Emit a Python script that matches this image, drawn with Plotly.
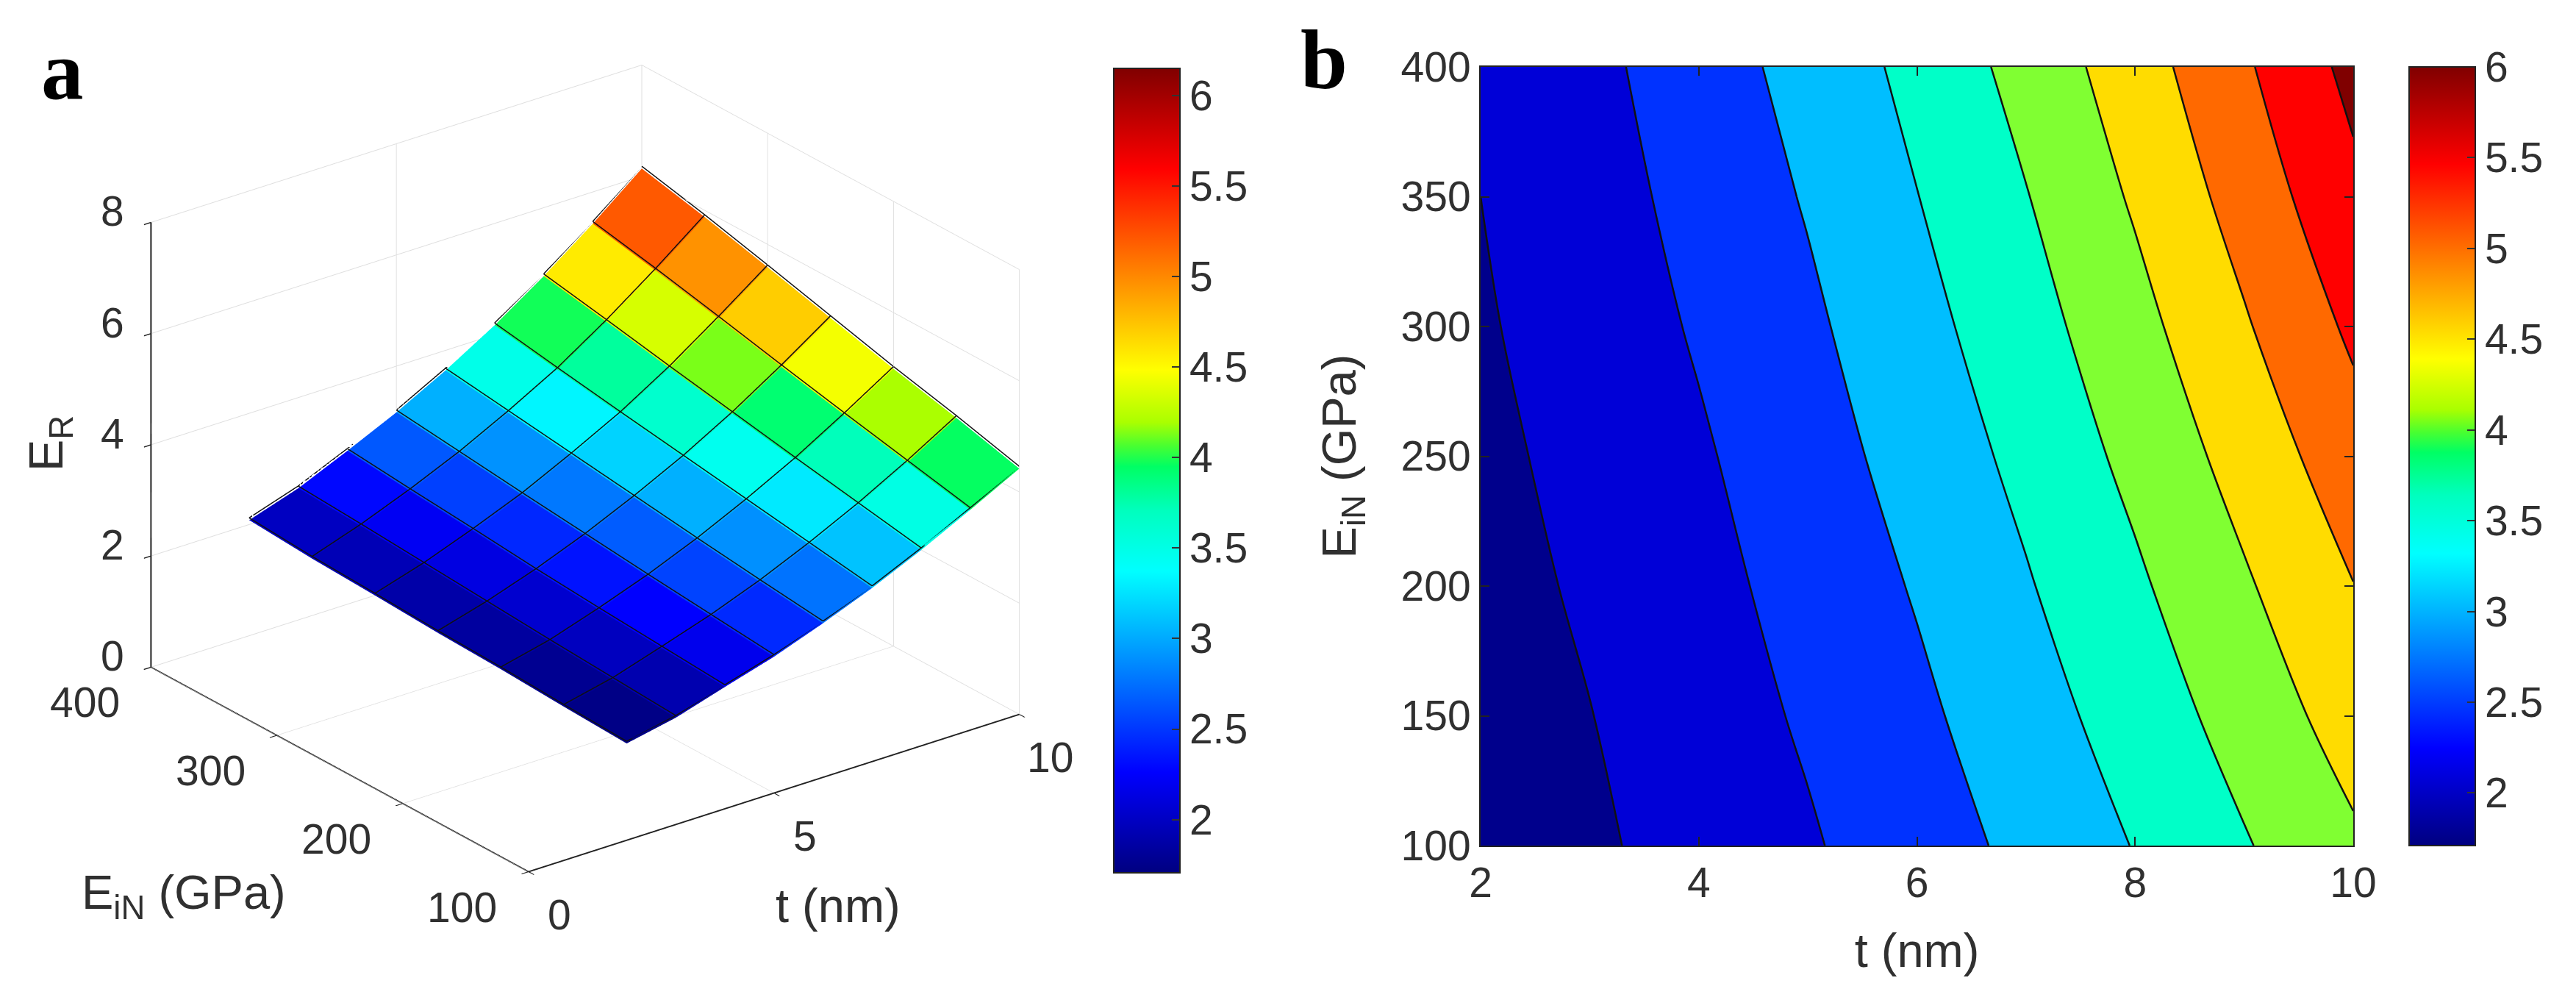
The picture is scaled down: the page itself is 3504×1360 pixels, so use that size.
import numpy as np
import plotly.graph_objects as go

W, H = 3504, 1360

t_nm = [2, 3, 4, 5, 6, 7, 8, 9, 10]
E_iN = [100, 150, 200, 250, 300, 350, 400]
E_R_100 = [1.74, 1.92, 2.19, 2.45, 2.77, 3.12, 3.52, 3.96, 4.42]
E_R_150 = [1.79, 1.99, 2.27, 2.56, 2.90, 3.29, 3.72, 4.20, 4.72]
E_R_200 = [1.85, 2.06, 2.35, 2.67, 3.04, 3.46, 3.92, 4.44, 4.99]
E_R_250 = [1.89, 2.14, 2.44, 2.79, 3.19, 3.63, 4.13, 4.69, 5.29]
E_R_300 = [1.95, 2.22, 2.55, 2.91, 3.34, 3.80, 4.34, 4.95, 5.59]
E_R_350 = [2.00, 2.30, 2.65, 3.04, 3.49, 3.98, 4.56, 5.20, 5.88]
E_R_400 = [2.08, 2.37, 2.76, 3.17, 3.64, 4.17, 4.77, 5.43, 6.14]
E_R = [E_R_100, E_R_150, E_R_200, E_R_250, E_R_300, E_R_350, E_R_400]

contour_levels = (2, 6, 0.5)
band_colors = ["rgb(0,0,140)", "rgb(0,0,215)", "rgb(0,50,255)", "rgb(0,190,255)", "rgb(0,255,200)",
               "rgb(128,255,50)", "rgb(255,220,0)", "rgb(255,105,0)", "rgb(255,0,0)", "rgb(128,0,0)"]
cb_ticks = [2, 2.5, 3, 3.5, 4, 4.5, 5, 5.5, 6]
scene_t_ticks = [0, 5, 10]
scene_E_ticks = [100, 200, 300, 400]
scene_z_ticks = [0, 2, 4, 6, 8]

jet = [[0, "rgb(0,0,128)"], [.125, "rgb(0,0,255)"], [.375, "rgb(0,255,255)"], [.45, "rgb(0,255,190)"],
       [.505, "rgb(0,255,100)"], [.53, "rgb(70,255,50)"], [.56, "rgb(170,255,0)"], [.625, "rgb(255,255,0)"],
       [.875, "rgb(255,0,0)"], [1, "rgb(128,0,0)"]]

FONT = "Liberation Sans, Arial, sans-serif"
INK = "#303030"
TICK = 57
TITLE = 65

def px(x): return x / W
def py(y): return 1 - y / H

fig = go.Figure()

# ---------- panel a: faceted surface ----------
T, EE = np.meshgrid(t_nm, E_iN)
Z = np.array(E_R)
ny, nx = Z.shape
idx = lambda r, c: r * nx + c
I, J, K, C = [], [], [], []
for r in range(ny - 1):
    for c in range(nx - 1):
        I += [idx(r, c), idx(r, c)]
        J += [idx(r, c + 1), idx(r + 1, c + 1)]
        K += [idx(r + 1, c + 1), idx(r + 1, c)]
        C += [Z[r, c], Z[r, c]]
cb_common = dict(thicknessmode="pixels", thickness=90, lenmode="fraction", xpad=0, ypad=0,
                 xanchor="left", yanchor="top", ticks="inside", ticklen=12, tickwidth=2, tickcolor="#333",
                 outlinewidth=2, outlinecolor="#222", tickvals=cb_ticks,
                 ticktext=[f"{v:g}" for v in cb_ticks], tickfont=dict(family=FONT, size=TICK, color=INK))
fig.add_trace(go.Mesh3d(x=T.ravel(), y=EE.ravel(), z=Z.ravel(), i=I, j=J, k=K,
                        intensity=C, intensitymode="cell", colorscale=jet, cmin=1.706, cmax=6.15,
                        flatshading=True,
                        lighting=dict(ambient=1, diffuse=0, specular=0, roughness=1, fresnel=0),
                        hoverinfo="skip", scene="scene",
                        colorbar=dict(x=px(1515), y=py(93), len=(1187 - 93) / H, **cb_common)))
LIFT = 0.04  # keeps the facet edges in front of the facets in the depth buffer
lx, ly, lz = [], [], []
for r in range(ny):
    lx += list(T[r]) + [None]; ly += list(EE[r]) + [None]; lz += list(Z[r] + LIFT) + [None]
for c in range(nx):
    lx += list(T[:, c]) + [None]; ly += list(EE[:, c]) + [None]; lz += list(Z[:, c] + LIFT) + [None]
fig.add_trace(go.Scatter3d(x=lx, y=ly, z=lz, mode="lines", line=dict(color="#101010", width=3),
                           hoverinfo="skip", showlegend=False, scene="scene"))

axis3d = dict(showbackground=False, showgrid=True, gridcolor="#dedede", gridwidth=2, showline=True,
              linecolor="#222", linewidth=4, ticks="outside", ticklen=12, tickwidth=3, tickcolor="#222",
              zeroline=False, showspikes=False, title=dict(text=""), showticklabels=False)

def tick_note(x, y, z, txt, dx, dy):
    return dict(x=x, y=y, z=z, text=txt, showarrow=False, xshift=dx, yshift=dy,
                font=dict(family=FONT, size=TICK, color=INK))

scene_notes = ([tick_note(v, 100, 0, f"{v:g}", 42, -58) for v in scene_t_ticks]
               + [tick_note(0, v, 0, f"{v:g}", -90, -48) for v in scene_E_ticks]
               + [tick_note(0, 400, v, f"{v:g}", -52, 15) for v in scene_z_ticks])

# ---------- panel b: filled contours ----------
fig.add_trace(go.Heatmap(x=t_nm, y=E_iN, z=E_R, zmin=1.71, zmax=6.0, colorscale=jet, hoverinfo="skip",
                         zsmooth="best", xaxis="x", yaxis="y",
                         colorbar=dict(x=px(3277), y=py(91), len=(1150 - 91) / H, **cb_common)))
band_scale = [[i / (len(band_colors) - 1), c] for i, c in enumerate(band_colors)]
fig.add_trace(go.Contour(x=t_nm, y=E_iN, z=E_R, showscale=False, colorscale=band_scale, hoverinfo="skip",
                         contours=dict(start=contour_levels[0], end=contour_levels[1], size=contour_levels[2],
                                       coloring="fill"),
                         line=dict(color="#111", width=2.5, smoothing=1), xaxis="x", yaxis="y"))

R = 1.42
A = 1.337
def note(text, x, y, size=TITLE, family=FONT, color=INK, angle=0):
    return dict(text=text, x=px(x), y=py(y), xref="paper", yref="paper", showarrow=False, textangle=angle,
                xanchor="center", yanchor="middle", font=dict(family=family, size=size, color=color))

fig.update_layout(
    width=W, height=H, margin=dict(l=0, r=0, t=0, b=0, autoexpand=False), paper_bgcolor="white", plot_bgcolor="white",
    showlegend=False,
    font=dict(family=FONT, size=TICK, color=INK),
    scene=dict(
        domain=dict(x=[px(16), px(1576)], y=[py(1267), py(7)]),
        aspectmode="manual", aspectratio=dict(x=A, y=A, z=0.79 * A),
        camera=dict(projection=dict(type="orthographic"), up=dict(x=0, y=0, z=1),
                    center=dict(x=0, y=0, z=0),
                    eye=dict(x=-0.5545 * R, y=-0.7208 * R, z=0.4168 * R)),
        xaxis=dict(range=[0, 10], tickvals=scene_t_ticks, **axis3d),
        yaxis=dict(range=[100, 400], tickvals=scene_E_ticks, **axis3d),
        zaxis=dict(range=[0, 8], tickvals=scene_z_ticks, **axis3d),
        annotations=scene_notes,
    ),
    xaxis=dict(domain=[px(2014), px(3201)], range=[2, 10], tickvals=[2, 4, 6, 8, 10], ticks="inside",
               ticklen=12, tickwidth=2, tickcolor="#222", showline=True, linecolor="#222", linewidth=2,
               mirror="ticks", showgrid=False, zeroline=False,
               title=dict(text="t (nm)", font=dict(family=FONT, size=TITLE, color=INK), standoff=38),
               tickfont=dict(family=FONT, size=TICK, color=INK), anchor="y"),
    yaxis=dict(domain=[py(1150), py(91)], range=[100, 400], tickvals=[100, 150, 200, 250, 300, 350, 400],
               ticks="inside", ticklen=12, tickwidth=2, tickcolor="#222", showline=True, linecolor="#222",
               linewidth=2, mirror="ticks", showgrid=False, zeroline=False,
               title=dict(text="E<sub>iN</sub> (GPa)", font=dict(family=FONT, size=TITLE, color=INK), standoff=40),
               tickfont=dict(family=FONT, size=TICK, color=INK), anchor="x"),
    annotations=[
        note("<b>a</b>", 85, 96, 115, "Liberation Serif", "black"),
        note("<b>b</b>", 1801, 81, 115, "Liberation Serif", "black"),
        note("E<sub>R</sub>", 67, 603, angle=-90),
        note("E<sub>iN</sub> (GPa)", 250, 1218),
        note("t (nm)", 1140, 1231),
    ],
)
fig.write_html("out.html", post_script="document.body.style.margin='0';", config={"displayModeBar": False})
